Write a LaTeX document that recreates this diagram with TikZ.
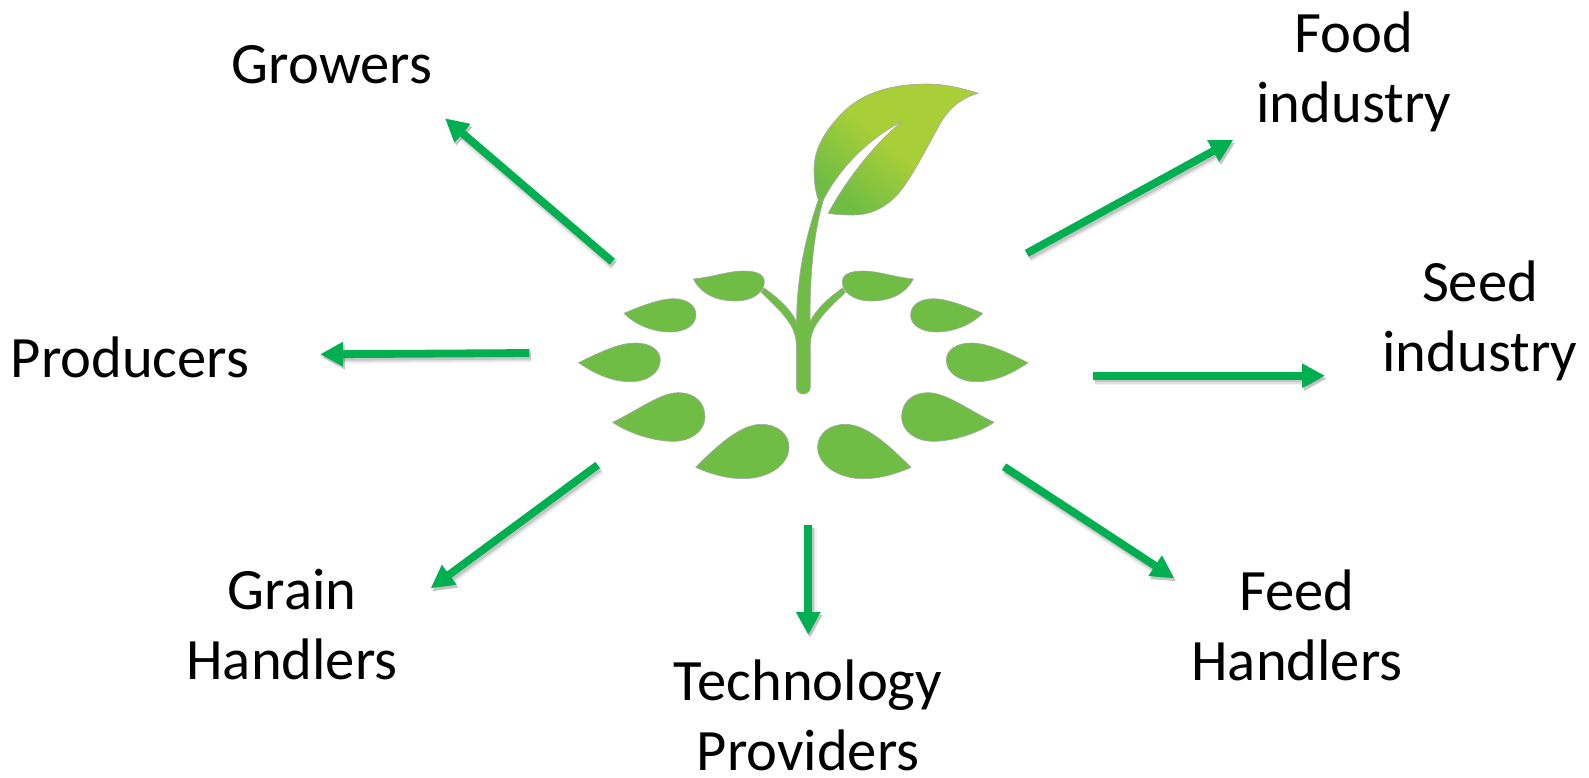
\documentclass[tikz,border=0pt]{standalone}
\usepackage{fontspec}
\setmainfont{Carlito}
\usetikzlibrary{arrows.meta}
\definecolor{leafgreen}{HTML}{6FBD44}
\definecolor{leafyellow}{HTML}{A9CF38}
\definecolor{flowgreen}{HTML}{00B050}
\tikzset{
    stakeholder/.style={align=center, inner sep=0pt, font=\fontsize{29.3}{35}\selectfont, text=black},
    sprout/.style={fill=leafgreen, draw=gray!70, line width=0.3pt},
    flow/.style={draw=flowgreen, line width=3.9pt, -{Triangle[length=11.5pt,width=11.5pt]},
        preaction={draw=black, opacity=0.05, line width=6.5pt, transform canvas={xshift=0.9pt,yshift=-1.5pt}},
        preaction={draw=black, opacity=0.08, line width=5pt, transform canvas={xshift=0.9pt,yshift=-1.5pt}},
        preaction={draw=black, opacity=0.12, line width=3.5pt, transform canvas={xshift=0.9pt,yshift=-1.5pt}}},
}
\begin{document}
\begin{tikzpicture}[x=0.5pt,y=-0.5pt]
    \useasboundingbox (0,0) rectangle (1589,777);
    % labels
    \node[stakeholder] (growers) at (332,65) {Growers};
    \node[stakeholder] (food) at (1354,72) {Food\\industry};
    \node[stakeholder] (seed) at (1480,321) {Seed\\industry};
    \node[stakeholder] (producers) at (130,357) {Producers};
    \node[stakeholder] (grain) at (292,625) {Grain\\Handlers};
    \node[stakeholder] (technology) at (808,715) {Technology\\Providers};
    \node[stakeholder] (feed) at (1297,625) {Feed\\Handlers};
    % plant
    \begin{scope}[shift={(803.3,0)}]
        \path[sprout] (15,200) .. controls (3,235) and (-6.7,275) .. (-6.7,322)
            .. controls (-12,310) and (-25,298) .. (-39.3,288) -- (-42,292.3)
            .. controls (-33,301.5) and (-23,310) .. (-16,320)
            .. controls (-12,325) and (-7,334) .. (-7,345) -- (-7,387)
            .. controls (-7,391) and (-4,394) .. (0,394)
            .. controls (4,394) and (7,391) .. (7,387) -- (7,345)
            .. controls (7,334) and (12,325) .. (16,320)
            .. controls (23,310) and (33,301.5) .. (42,292.3) -- (39.3,288)
            .. controls (25,298) and (12,310) .. (6.7,322)
            .. controls (6.7,275) and (10,235) .. (20,200) -- cycle;
        \path[draw=gray!70, line width=0.3pt, bottom color=leafgreen, top color=leafyellow, middle color=leafyellow, shading angle=-40]
            (175,93.3) .. controls (155,87) and (140,84) .. (123,84)
            .. controls (90,84) and (60,92) .. (40,112)
            .. controls (20,132) and (10.7,150) .. (10.7,170)
            .. controls (10.7,182) and (12,191) .. (15,200) -- (20,200)
            .. controls (35,170) and (65,138) .. (100,121)
            .. controls (80,135) and (45,175) .. (25,213.3)
            .. controls (35,215) and (45,215) .. (50,215)
            .. controls (75,215) and (92,200) .. (103,183)
            .. controls (115,165) and (125,145) .. (135,127)
            .. controls (145,108) and (158,98) .. (175,93.3) -- cycle;
        \foreach \side in {1,-1} {
            \begin{scope}[xscale=\side]
                \path[sprout] (-110,279) .. controls (-90,277) and (-75,271) .. (-60,271)
                    .. controls (-47,271) and (-39,274) .. (-39,282)
                    .. controls (-39,292) and (-50,301) .. (-68,301)
                    .. controls (-88,301) and (-103,293) .. (-110,279) -- cycle;
                \path[sprout] (-179.3,313.3) .. controls (-160,305) and (-142,298.7) .. (-130,298.7)
                    .. controls (-117,298.7) and (-107.3,305) .. (-107.3,315)
                    .. controls (-107.3,325) and (-118,332) .. (-133,332)
                    .. controls (-150,332) and (-168,325) .. (-179.3,313.3) -- cycle;
                \path[sprout] (-224.7,362.7) .. controls (-205,353) and (-185,343) .. (-168,343)
                    .. controls (-153,343) and (-143,350) .. (-143,360)
                    .. controls (-143,372) and (-155,381.7) .. (-173,381.7)
                    .. controls (-192,381.7) and (-210,373) .. (-224.7,362.7) -- cycle;
                \path[sprout] (-190.7,422.3) .. controls (-165,410) and (-143,392.7) .. (-125,392.7)
                    .. controls (-108,392.7) and (-98.3,403) .. (-98.3,416.7)
                    .. controls (-98.3,431) and (-112,441.3) .. (-130,441.3)
                    .. controls (-150,441.3) and (-175,433) .. (-190.7,422.3) -- cycle;
                \path[sprout] (-107.7,467.3) .. controls (-90,450) and (-65,424.3) .. (-42,424.3)
                    .. controls (-26,424.3) and (-14.3,434) .. (-14.3,447)
                    .. controls (-14.3,465) and (-35,478.7) .. (-60,478.7)
                    .. controls (-78,478.7) and (-95,473) .. (-107.7,467.3) -- cycle;
            \end{scope}
        }
    \end{scope}
    % arrows
    \coordinate (growerstail) at (612.3,261.7);
    \coordinate (growerstip) at (445,118.3);
    \coordinate (foodtail) at (1026.7,253.3);
    \coordinate (foodtip) at (1233.3,140);
    \coordinate (producerstail) at (529.3,353);
    \coordinate (producerstip) at (320,354.3);
    \coordinate (seedtail) at (1093.3,375.7);
    \coordinate (seedtip) at (1325,375.7);
    \coordinate (graintail) at (597.7,465);
    \coordinate (graintip) at (430.7,588.3);
    \coordinate (technologytail) at (808.3,525);
    \coordinate (technologytip) at (808.3,635);
    \coordinate (feedtail) at (1004,466.7);
    \coordinate (feedtip) at (1174.3,578.3);
    \foreach \who in {growers,food,producers,seed,grain,technology,feed}
        \draw[flow] (\who tail) -- (\who tip);
\end{tikzpicture}
\end{document}
